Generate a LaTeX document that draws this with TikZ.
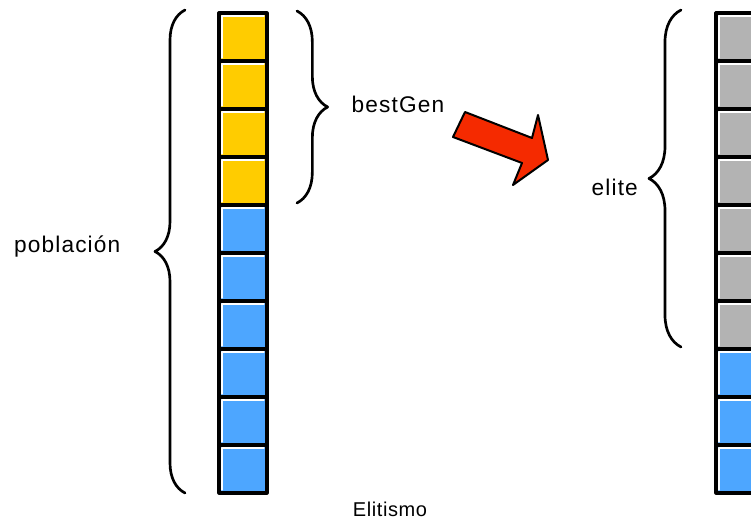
\documentclass[tikz,border=0pt]{standalone}
\usepackage{fontspec}
\setmainfont{Liberation Sans}
\usetikzlibrary{decorations.pathreplacing}
\definecolor{amarillo}{HTML}{FFCC00}
\definecolor{azul}{HTML}{4DA6FF}
\definecolor{gris}{HTML}{B3B3B3}
\definecolor{rojo}{HTML}{F52A00}
\tikzset{
	celda/.style={draw=black, line width=2.4pt, minimum size=36pt, inner sep=0pt, outer sep=0pt},
	llave/.style={decorate, decoration={brace, amplitude=#1}, line width=2pt},
	etiq/.style={font=\fontsize{17}{20}\selectfont\addfontfeatures{LetterSpace=5}}
}
\begin{document}
\begin{tikzpicture}[x=0.75pt, y=-0.75pt, line join=round, line cap=round, >=stealth]
	\useasboundingbox (0,0) rectangle (751,520);
	% columna de la poblacion
	\foreach \i in {1,...,10}{
		\ifnum\i<5 \def\col{amarillo}\else\def\col{azul}\fi
		\node[celda, fill=\col] (p\i) at (243,{13+48*(\i-0.5)}) {};
		\draw[white, line width=0.8pt] ([shift={(3,-3)}]p\i.south west) |- ([shift={(-3,3)}]p\i.north east);
	}
	% columna de la nueva generacion
	\foreach \i in {1,...,10}{
		\ifnum\i<8 \def\col{gris}\else\def\col{azul}\fi
		\node[celda, fill=\col] (q\i) at (740,{13+48*(\i-0.5)}) {};
		\draw[white, line width=0.8pt] ([shift={(3,-3)}]q\i.south west) |- ([shift={(-3,3)}]q\i.north east);
	}
	\path (185,493) coordinate (A)
	(185,10) coordinate (B)
	(297,11) coordinate (C)
	(297,203) coordinate (D)
	(681,347) coordinate (E)
	(681,10) coordinate (F);
	\draw[llave=22.5pt] (A) -- (B);
	\draw[llave=23pt] (C) -- (D);
	\draw[llave=24pt] (E) -- (F);
	\node[etiq, anchor=east] (pob) at (125,247) {población};
	\node[etiq, anchor=west] (best) at (347,104) {bestGen};
	\node[etiq, anchor=west] (eli) at (587,187) {elite};
	% flecha
	\draw[fill=rojo, line width=1.5pt] (465,112) -- (532,138) -- (538,115) -- (548,160)
		-- (513,185) -- (522,163) -- (453,137) -- cycle;
	\node[font=\fontsize{15}{17}\selectfont\addfontfeatures{LetterSpace=3}, inner sep=0pt, anchor=base] (tit) at (390,517) {Elitismo};
\end{tikzpicture}
\end{document}
